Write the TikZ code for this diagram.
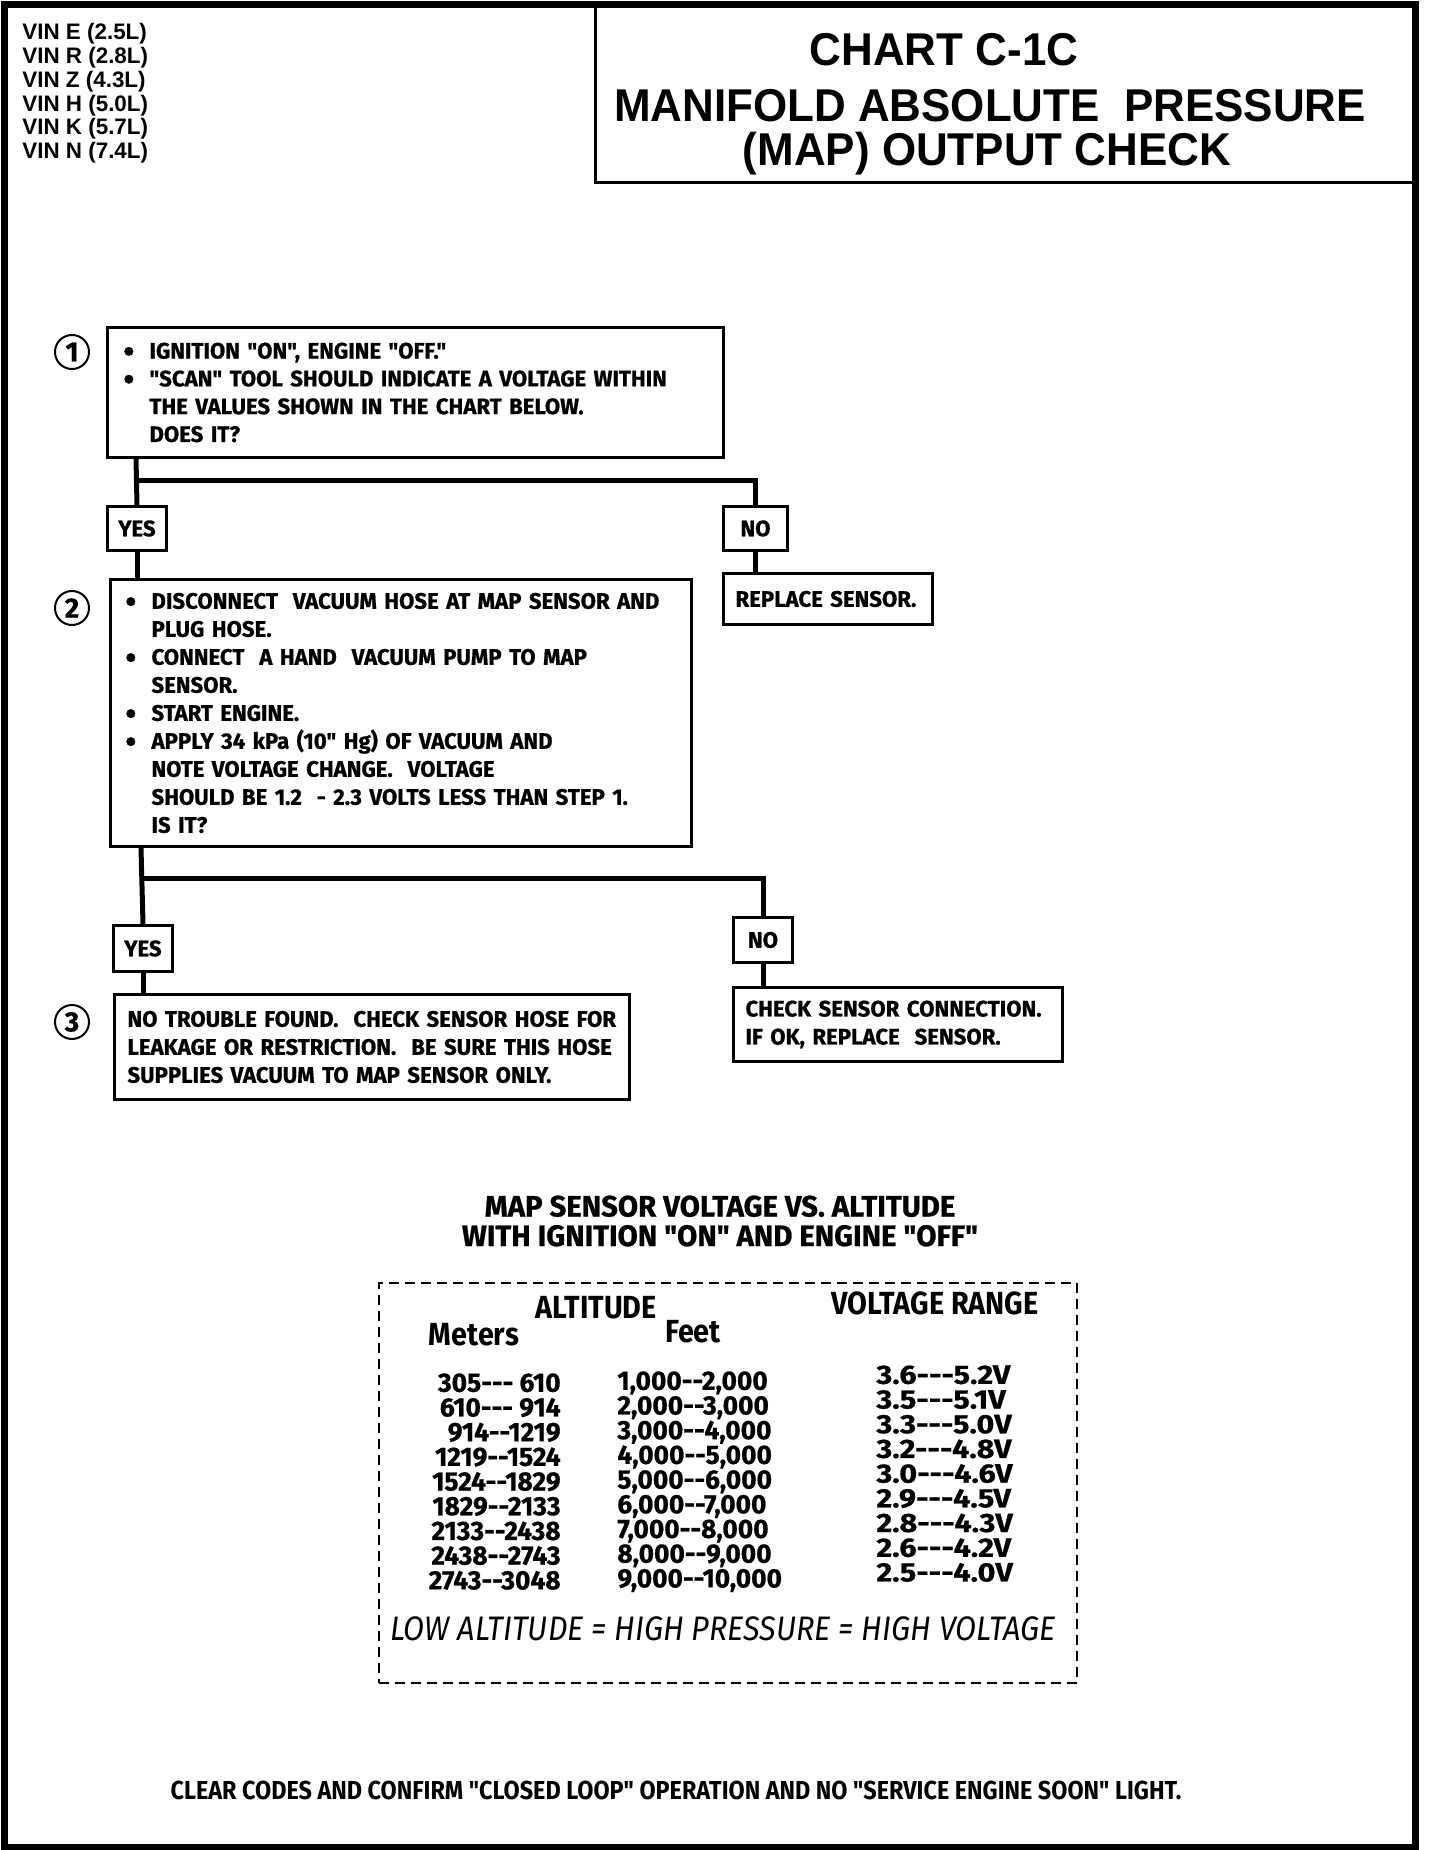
\documentclass[tikz,border=0pt]{standalone}
\usepackage{fontspec}
\setmainfont{Fira Sans}
\newfontfamily\condfont{Fira Sans}[FakeStretch=0.9, Ligatures=TeXOff]
\newfontfamily\boxfont{Fira Sans}[FakeStretch=0.99, Ligatures=TeXOff, BoldFeatures={FakeBold=0.8}]
\newfontfamily\tabfont{Fira Sans}[FakeStretch=0.99, Ligatures=TeXOff, BoldFeatures={FakeBold=0.8}]
\newfontfamily\voltfont{Fira Sans}[FakeStretch=1.15, Ligatures=TeXOff, BoldFeatures={FakeBold=0.8}]
\newfontfamily\helvfont{Liberation Sans}[FakeStretch=0.955]
\newfontfamily\vinfont{Liberation Sans}
\usetikzlibrary{positioning}

\newcommand{\bul}{\makebox[13pt][l]{\raisebox{-0.3ex}{\scalebox{1.4}{\textbullet}}}}
\newcommand{\ind}{\hspace*{13pt}}
\newcommand{\tight}{\lineskiplimit=-50pt\relax}

\begin{document}
\begin{tikzpicture}[
  x=0.5pt, y=-0.5pt,
  stepbox/.style={draw, line width=1.5pt, anchor=north west, align=left,
    inner xsep=8pt, inner ysep=0pt,
    font=\boxfont\bfseries\fontsize{11.2pt}{13.9pt}\selectfont},
  answer/.style={draw, line width=1.5pt, anchor=north west, inner sep=0pt,
    minimum width=29.5pt, minimum height=22pt,
    font=\boxfont\bfseries\fontsize{11.2pt}{13.5pt}\selectfont},
  stepnum/.style={circle, draw, line width=1pt, minimum size=17pt, inner sep=0pt,
    font=\boxfont\bfseries\fontsize{14pt}{14pt}\selectfont},
  link/.style={line width=2.5pt},
  tabtext/.style={inner sep=0pt, align=left,
    font=\tabfont\bfseries\fontsize{13.3pt}{12.35pt}\selectfont\tight},
  tabhead/.style={inner sep=0pt, font=\condfont\bfseries\fontsize{16pt}{16pt}\selectfont},
  titletext/.style={inner sep=0pt, font=\helvfont\bfseries\fontsize{23pt}{23pt}\selectfont},
]
\useasboundingbox (0,0) rectangle (1440,1850);

% title block
\node[draw, line width=1.5pt, anchor=north west, minimum width=410.5pt,
  minimum height=88pt, inner sep=0pt] (titlebox) at (594,5) {};
\draw[line width=3.5pt] (4.5,5) rectangle (1415.5,1847);
\node[titletext] (chart) at (944,50) {CHART C-1C};
\node[titletext] (maptitle) at (990,106) {MANIFOLD ABSOLUTE\ \ PRESSURE};
\node[titletext] (check) at (987,154) {(MAP) OUTPUT CHECK};
\node[anchor=north west, align=left, inner sep=0pt,
  font=\vinfont\bfseries\fontsize{11.2pt}{11.9pt}\selectfont\tight] (vins) at (22,23)
  {VIN E (2.5L)\\VIN R (2.8L)\\VIN Z (4.3L)\\VIN H (5.0L)\\VIN K (5.7L)\\VIN N (7.4L)};

% step 1
\node[stepnum] (n1) at (72,352) {1};
\node[stepbox, text width=292pt, minimum height=65pt] (box1) at (106,326)
  {\bul IGNITION "ON", ENGINE "OFF."\\
   \bul "SCAN" TOOL SHOULD INDICATE A VOLTAGE WITHIN\\
   \ind THE VALUES SHOWN IN THE CHART BELOW.\\
   \ind DOES IT?};
\node[answer] (yes1) at (106,505) {YES};
\node[answer, minimum width=32pt] (no1) at (722,505) {NO};
\node[stepbox, inner xsep=6pt, text width=92.5pt, minimum height=25.5pt] (replace) at (722,572)
  {REPLACE SENSOR.};

% step 2
\node[stepnum] (n2) at (72,608) {2};
\node[stepbox, inner xsep=7.5pt, text width=275.5pt, minimum height=133.5pt,
  font=\boxfont\bfseries\fontsize{11.2pt}{14pt}\selectfont] (box2) at (109,578)
  {\bul DISCONNECT\ \ VACUUM HOSE AT MAP SENSOR AND\\
   \ind PLUG HOSE.\\
   \bul CONNECT\ \ A HAND\ \ VACUUM PUMP TO MAP\\
   \ind SENSOR.\\
   \bul START ENGINE.\\
   \bul APPLY 34 kPa (10" Hg) OF VACUUM AND\\
   \ind NOTE VOLTAGE CHANGE.\ \ VOLTAGE\\
   \ind SHOULD BE 1.2\ \ - 2.3 VOLTS LESS THAN STEP 1.\\
   \ind IS IT?};
\node[answer, minimum height=23pt] (yes2) at (112,924) {YES};
\node[answer, minimum height=22.5pt] (no2) at (732,916) {NO};

% step 3
\node[stepnum] (n3) at (72,1022) {3};
\node[stepbox, inner xsep=6.5pt, text width=244.5pt, minimum height=52.5pt,
  font=\boxfont\bfseries\fontsize{11.2pt}{14pt}\selectfont] (box3) at (113,993)
  {NO TROUBLE FOUND.\ \ CHECK SENSOR HOSE FOR\\
   LEAKAGE OR RESTRICTION.\ \ BE SURE THIS HOSE\\
   SUPPLIES VACUUM TO MAP SENSOR ONLY.};
\node[stepbox, inner xsep=6pt, text width=152.5pt, minimum height=37pt,
  font=\boxfont\bfseries\fontsize{11.2pt}{14pt}\selectfont] (sensorcheck) at (732,986)
  {CHECK SENSOR CONNECTION.\\
   IF OK, REPLACE\ \ SENSOR.};

% connectors
\coordinate (fork1) at (136,480);
\coordinate (fork2) at (141,878);
\draw[link] (box1.south -| fork1) -- (yes1.north);
\draw[link] (fork1) -| (no1.north);
\draw[link] (yes1.south) -- (box2.north -| yes1);
\draw[link] (no1.south) -- (replace.north -| no1);
\draw[link] (box2.south -| fork2) -- (yes2.north);
\draw[link] (fork2) -| (no2.north);
\draw[link] (yes2.south) -- (box3.north -| yes2);
\draw[link] (no2.south) -- (sensorcheck.north -| no2);

% altitude chart
\node[font=\tabfont\bfseries\fontsize{14.8pt}{14.75pt}\selectfont\tight, align=center, inner sep=0pt]
  (charthead) at (720,1221)
  {MAP SENSOR VOLTAGE VS. ALTITUDE\\WITH IGNITION "ON" AND ENGINE "OFF"};
\node[draw, dash pattern=on 5pt off 3pt, line width=1pt, anchor=north west,
  minimum width=349pt, minimum height=200pt, inner sep=0pt] (chartbox) at (378,1282) {};
\node[tabhead] (althead) at (596,1308) {ALTITUDE};
\node[tabhead] (volthead) at (935,1303) {VOLTAGE RANGE};
\node[tabhead] (meterhead) at (474,1335) {Meters};
\node[tabhead] (feethead) at (693,1332) {Feet};
\node[tabtext, align=right, anchor=north east] (meters) at (561,1373)
  {305--- 610\\610--- 914\\914--1219\\1219--1524\\1524--1829\\1829--2133\\2133--2438\\2438--2743\\2743--3048};
\node[tabtext, anchor=north west] (feet) at (617,1371)
  {1,000--2,000\\2,000--3,000\\3,000--4,000\\4,000--5,000\\5,000--6,000\\6,000--7,000\\7,000--8,000\\8,000--9,000\\9,000--10,000};
\node[tabtext, anchor=north west, font=\voltfont\bfseries\fontsize{13.3pt}{12.35pt}\selectfont\tight]
  (volts) at (876,1365)
  {3.6---5.2V\\3.5---5.1V\\3.3---5.0V\\3.2---4.8V\\3.0---4.6V\\2.9---4.5V\\2.8---4.3V\\2.6---4.2V\\2.5---4.0V};
\node[inner sep=0pt, font=\condfont\itshape\fontsize{17pt}{17pt}\selectfont] (rule) at (723,1629)
  {LOW ALTITUDE\ =\ HIGH PRESSURE\ =\ HIGH VOLTAGE};

% closing note
\node[inner sep=0pt, font=\condfont\bfseries\fontsize{13pt}{13pt}\selectfont] (closing) at (676,1790)
  {CLEAR CODES AND CONFIRM "CLOSED LOOP" OPERATION AND NO "SERVICE ENGINE SOON" LIGHT.};
\end{tikzpicture}
\end{document}
